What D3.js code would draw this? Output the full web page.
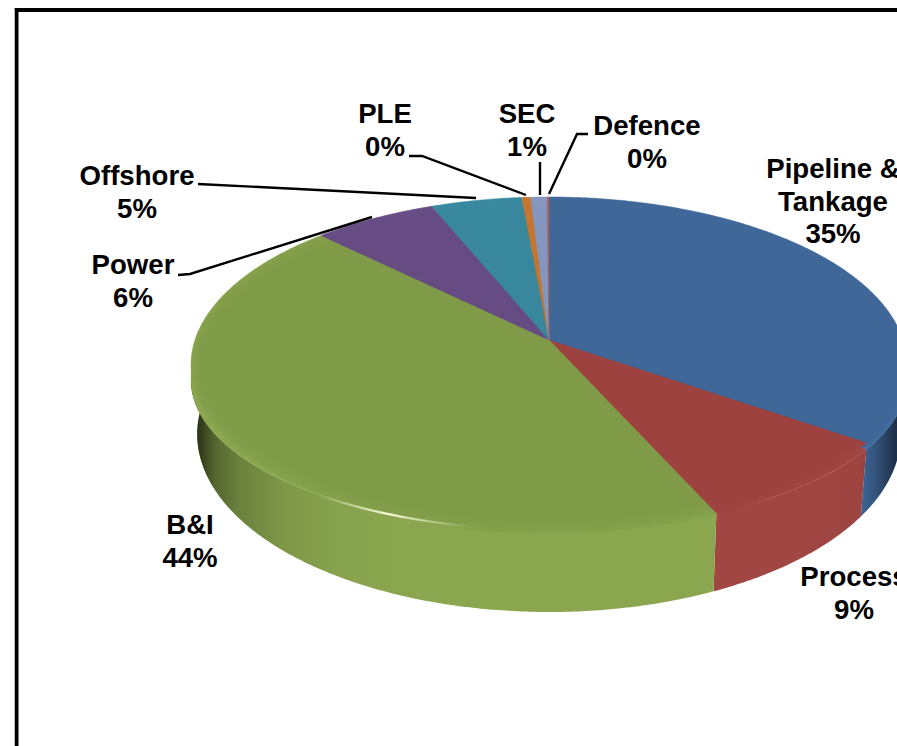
<!DOCTYPE html>
<html>
<head>
<meta charset="utf-8">
<script src="https://cdn.jsdelivr.net/npm/d3@7"></script>
<style>
html,body{margin:0;padding:0;background:#fff;overflow:hidden}
svg{display:block}
text{font-family:"Liberation Sans",Arial,sans-serif;font-weight:700;font-size:27.6px;fill:#000;text-anchor:middle}
</style>
</head>
<body>
<svg id="c" width="897" height="746"></svg>
<script>
const categories = ["Pipeline & Tankage","Process","B&I","Power","Offshore","PLE","SEC","Defence"];
const shares = [34.7,8.6,44.1,6.45,4.75,0.45,0.85,0.1];
const topColors = ["#3f6797","#9d423f","#809b48","#664c83","#39879d","#c6752f","#8496bd","#a8605c"];
const wallColors = ["#40699c","#a24643","#8aa64e","#6a4f88","#3b8ca3","#cc7930","#8899c2","#ad625e"];
const labelLines = [["Pipeline &","Tankage","35%"],["Process","9%"],["B&I","44%"],["Power","6%"],["Offshore","5%"],["PLE","0%"],["SEC","1%"],["Defence","0%"]];
const labelAnchors = [[833,169],[854,577],[190,525],[133,265],[137,176],[385,114],[527,114],[647,126]];
const leaders = [null,null,null,[[178,275],[190,274],[372,217]],[[198,184],[476,198]],[[409,156],[422,156],[526,195]],[[540,162],[540,195]],[[588,134],[577,134],[549,194]]];

const svg = d3.select("#c");
const defs = svg.append("defs");

// perspective pie: maps a pie angle onto a tilted disc
function disc(cx, cy, rx, ry, k){
  return a => {
    const u = Math.sin(a), v = -Math.cos(a), w = 1 - k*v;
    return [cx + rx*u/w, cy + ry*v/w];
  };
}
const K = 0.1488;
const topP = disc(549,340,354,164.3,K);
const edgeP = disc(549,357.7,354,146.7,K);
const baseP = disc(549,407.7,347.9,173.9,K);
const apex = [549,340];

const arcs = d3.pie().sort(null).value(d=>d)(shares);
const samples = (a0,a1) => {
  const n = Math.max(2,Math.ceil((a1-a0)/0.01));
  return d3.range(n+1).map(i=>a0+(a1-a0)*i/n);
};
const line = d3.line();

// wall shading
const shade = defs.append("linearGradient").attr("id","shade")
  .attr("gradientUnits","userSpaceOnUse").attr("x1",190).attr("x2",900).attr("y1",0).attr("y2",0);
const xs = d3.scaleLinear().domain([190,900]).range([0,1]);
[[195,.75],[203,.6],[215,.38],[240,.22],[280,.1],[330,.03],[400,0],[780,0],[860,.03],[875,.2],[897,.55]]
  .forEach(([x,o])=>shade.append("stop").attr("offset",xs(x)).attr("stop-color","#000").attr("stop-opacity",o));

const blur = defs.append("filter").attr("id","soft").attr("x","-10%").attr("y","-10%").attr("width","120%").attr("height","120%");
blur.append("feGaussianBlur").attr("stdDeviation",5);
const blur2 = defs.append("filter").attr("id","soft2").attr("x","-10%").attr("y","-50%").attr("width","120%").attr("height","200%");
blur2.append("feGaussianBlur").attr("stdDeviation",0.6);

const hl = defs.append("linearGradient").attr("id","hl")
  .attr("gradientUnits","userSpaceOnUse").attr("x1",320).attr("x2",470).attr("y1",0).attr("y2",0);
[[0,0],[.25,.55],[.45,.95],[.7,.5],[1,0]].forEach(([o,a])=>hl.append("stop").attr("offset",o).attr("stop-color","#fbffe0").attr("stop-opacity",a));

// frame
svg.append("rect").attr("x",16.5).attr("y",10).attr("width",1000).attr("height",1000)
  .attr("fill","#fff").attr("stroke","#000").attr("stroke-width",4);
svg.append("line").attr("x1",14.5).attr("x2",14.5).attr("y1",9).attr("y2",746).attr("stroke","#bbb").attr("stroke-width",1);

// walls
const wallPath = d => {
  const s = samples(d.startAngle,d.endAngle);
  return line(s.map(edgeP).concat(s.slice().reverse().map(baseP)))+"Z";
};
const walls = svg.append("g");
walls.selectAll("path.w").data(arcs).join("path").attr("class","w")
  .attr("d",wallPath).attr("fill",(d,i)=>wallColors[i]);
walls.selectAll("path.s").data(arcs).join("path").attr("class","s")
  .attr("d",wallPath).attr("fill","url(#shade)");

// bevel band: slices reaching the edge outline, in the lighter rim colour
const slicePath = P => d => line([apex].concat(samples(d.startAngle,d.endAngle).map(P)))+"Z";
const band = svg.append("g");
[edgeP,topP].forEach(P=>{
  band.append("g").selectAll("path").data(arcs).join("path")
    .attr("d",slicePath(P)).attr("fill",(d,i)=>wallColors[i]).attr("stroke",(d,i)=>wallColors[i]).attr("stroke-width",.4);
});

// flat top face, faded into the band by a blurred mask
const rim = samples(0,2*Math.PI).map(topP);
const mask = defs.append("mask").attr("id","faceMask").attr("maskUnits","userSpaceOnUse")
  .attr("x",0).attr("y",0).attr("width",897).attr("height",746);
mask.append("rect").attr("width",897).attr("height",746).attr("fill","#000");
mask.append("path").attr("d",line(rim)+"Z").attr("fill","#fff").attr("stroke","#000").attr("stroke-width",10).attr("filter","url(#soft)");
svg.append("g").attr("mask","url(#faceMask)").selectAll("path").data(arcs).join("path")
  .attr("d",slicePath(topP)).attr("fill",(d,i)=>topColors[i]).attr("stroke",(d,i)=>topColors[i]).attr("stroke-width",.4);

// specular highlight on the front rim
svg.append("path")
  .attr("d",line(samples(190*Math.PI/180,216*Math.PI/180).map(edgeP)))
  .attr("fill","none").attr("stroke","url(#hl)").attr("stroke-width",2.2).attr("filter","url(#soft2)");

// leaders
svg.append("g").selectAll("path").data(leaders.filter(Boolean)).join("path")
  .attr("d",d=>line(d)).attr("fill","none").attr("stroke","#000").attr("stroke-width",2.4);

// labels
const lab = svg.append("g").selectAll("text").data(labelLines).join("text")
  .attr("x",(d,i)=>labelAnchors[i][0]).attr("y",(d,i)=>labelAnchors[i][1]+9);
lab.selectAll("tspan").data((d,i)=>d.map(t=>({t,x:labelAnchors[i][0]}))).join("tspan")
  .attr("x",d=>d.x).attr("dy",(d,i)=>i?32.5:0).text(d=>d.t);
</script>
</body>
</html>
